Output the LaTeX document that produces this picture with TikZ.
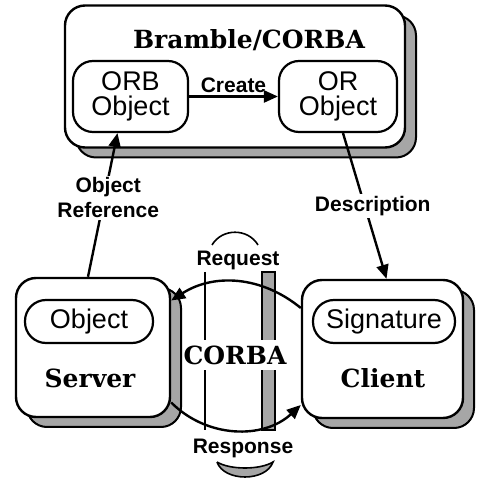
\documentclass[tikz,border=0pt]{standalone}
\usepackage{fontspec}
\setsansfont{Liberation Sans}
\newfontfamily\schfont{DejaVu Serif}
\usetikzlibrary{arrows.meta,shadows}
\tikzset{bx/.style = {draw, line width=2.4pt, rounded corners=20pt, fill=white, inner sep=0pt,
                      general shadow={fill=black!35, draw=black, line width=2pt, shadow xshift=11pt, shadow yshift=-10pt}},
         ib/.style = {draw, line width=2.2pt, rounded corners=20pt, inner sep=0pt, align=center,
                      font=\fontsize{27}{25}\selectfont\sffamily},
         pl/.style = {draw, line width=2.2pt, rounded corners=21pt, inner sep=0pt, minimum height=43pt,
                      font=\fontsize{27}{27}\selectfont\sffamily},
         rm/.style = {font=\fontsize{25}{25}\selectfont\schfont\bfseries},
         lb/.style = {inner sep=2pt, align=center, font=\fontsize{21}{25}\selectfont\sffamily\bfseries}}

\begin{document}
\begin{tikzpicture}[x=1pt, y=1pt, >={Triangle[length=14pt,width=12pt]}, line width=2.4pt]
  \useasboundingbox (0,0) rectangle (481,482);
  % Bramble/CORBA box with its two objects
  \node[bx, minimum width=340pt, minimum height=142pt] (bc) at (235,405.5) {};
  \node[rm] (tt) at (249,442) {Bramble/CORBA};
  \node[ib, minimum width=115pt, minimum height=71pt] (orb) at (130.5,385.5) {ORB\\Object};
  \node[ib, minimum width=118pt, minimum height=71pt] (ora) at (338,385.5) {OR\\Object};
  \draw[->] (orb) -- node[lb, above=1pt] {Create} (ora);
  % server and client
  \node[bx, minimum width=154pt, minimum height=139pt] (srv) at (93,134.5) {};
  \node[pl, minimum width=128pt] (obj) at (89,160.5) {Object};
  \node[rm] (sv) at (90,104) {Server};
  \node[bx, minimum width=161pt, minimum height=138pt] (cli) at (382.5,133) {};
  \node[pl, minimum width=142pt] (sig) at (384,160.5) {Signature};
  \node[rm] (cl) at (383,104) {Client};
  % the pipe in between
  \draw[line width=1.6pt] (205,210) -- (205,52);
  \draw[line width=1.6pt, fill=black!35] (262,210) rectangle (275,52);
  \draw[line width=1.6pt] (212,237) .. controls (222,254) and (248,254) .. (258,237);
  \draw[line width=1.6pt, fill=black!35] (217,20) .. controls (230,12) and (260,12) .. (273,20)
       .. controls (266,0) and (224,0) .. (217,20);
  \node[rm, fill=white, inner xsep=1pt, inner ysep=6pt] (cb) at (235,127) {CORBA};
  \node[lb] (rq) at (238,222) {Request};
  \node[lb] (rs) at (243,34) {Response};
  \draw[->] ([yshift=41pt]cli.west) to[bend right=36] ([yshift=47pt]srv.east);
  \draw[->] ([yshift=-55pt]srv.east) to[bend right=44] ([yshift=-56pt]cli.west);
  % references between the two levels
  \draw[<-] ([xshift=-13pt]orb.south) -- node[lb, fill=white, pos=.45, xshift=4pt] {Object\\Reference} ([xshift=-5pt]srv.north);
  \draw[->] ([xshift=5pt]ora.south) -- node[lb, fill=white, pos=.5, xshift=8pt] {Description} ([xshift=4pt]cli.north);
\end{tikzpicture}
\end{document}
